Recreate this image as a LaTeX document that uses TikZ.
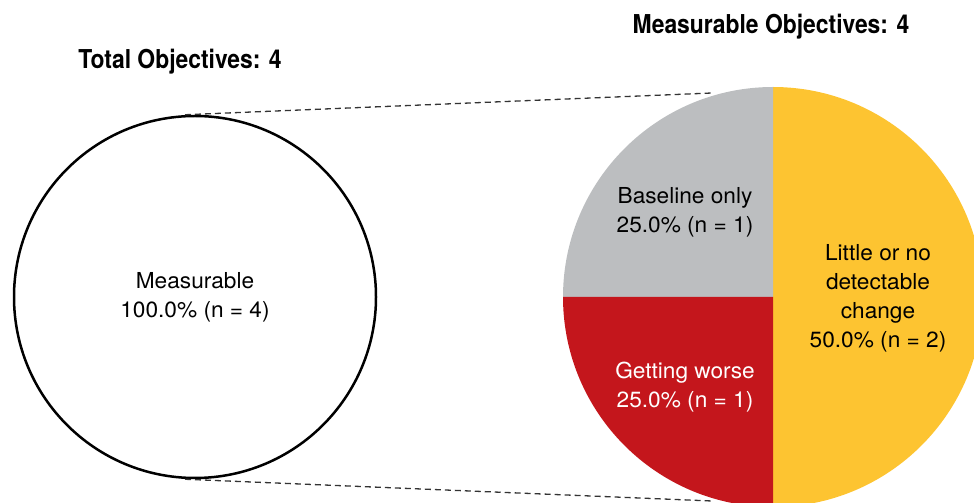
\documentclass[tikz,border=0pt]{standalone}
\usepackage{fontspec}
\setmainfont{TeX Gyre Heros}[FakeStretch=1.03]
\newfontfamily\headfont{TeX Gyre Heros}[FakeStretch=0.88]
\usepackage{tikz}
\usetikzlibrary{positioning}
\definecolor{piegrey}{HTML}{BCBEC0}
\definecolor{piered}{HTML}{C4161C}
\definecolor{pieyellow}{HTML}{FDC431}
\tikzset{Pie/.style = {
		every node/.style = {align=center, inner sep=0pt,
			font=\fontsize{22}{29}\selectfont},
		heading/.style = {font=\headfont\bfseries\fontsize{26}{30}\selectfont},
		wholecircle/.style = {circle, draw, line width=2.5pt, minimum size=362pt},
		zoomline/.style = {dash pattern=on 6pt off 4pt, line width=1.3pt, draw=black!80},
	}% end of Pie style
}

\begin{document}
\begin{tikzpicture}[Pie, x=1pt, y=1pt]
  \useasboundingbox (0,0) rectangle (974,503);
  \clip (0,0) rectangle (974,503);

  % left: all objectives
  \node[heading] (totaltext) at (180,441) {Total Objectives: 4};
  \node[wholecircle] (total) at (195,206) {Measurable\\100.0\% (n = 4)};

  % right: measurable objectives
  \begin{scope}[shift={(773,206)}]
   \coordinate (piecentre) at (0,0);
   \fill[pieyellow] (piecentre) -- (0,210) arc[start angle=90, end angle=-90, radius=210pt] -- cycle;
   \fill[piegrey] (piecentre) -- (0,210) arc[start angle=90, end angle=180, radius=210pt] -- cycle;
   \fill[piered] (piecentre) -- (-210,0) arc[start angle=180, end angle=270, radius=210pt] -- cycle;
   \coordinate (pietop) at (-61,204);
   \coordinate (piebottom) at (-61,-204);
   \node[heading] (meastext) at (-2,270) {Measurable Objectives: 4};
   \node (baseline) at (-88,85) {Baseline only\\25.0\% (n = 1)};
   \node[text=white] (worse) at (-88,-90) {Getting worse\\25.0\% (n = 1)};
   \node (nochange) at (105,-1) {Little or no\\detectable\\change\\50.0\% (n = 2)};
  \end{scope}

  \draw[zoomline] (total.north) ++(-10,0) coordinate (totaltop) -- (pietop);
  \draw[zoomline] (total.south) ++(-10,0) coordinate (totalbottom) -- (piebottom);
 \end{tikzpicture}
\end{document}
